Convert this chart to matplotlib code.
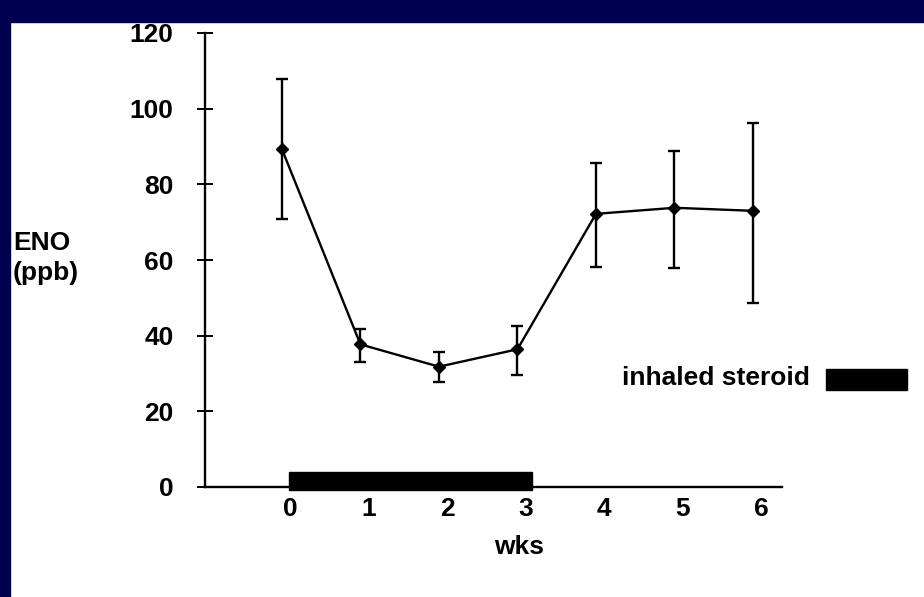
import matplotlib
matplotlib.use("Agg")
import matplotlib.pyplot as plt
import matplotlib.transforms as mtransforms
from matplotlib.patches import Rectangle

# data
weeks = [0, 1, 2, 3, 4, 5, 6]
eno = [89.3, 37.7, 31.8, 36.4, 72.2, 73.8, 73.0]
eno_low = [70.8, 33.0, 27.7, 29.5, 58.1, 58.0, 48.7]
eno_high = [107.8, 41.8, 35.8, 42.6, 85.6, 88.9, 96.3]
steroid_start, steroid_end = 0.09, 3.18
y_ticks = [0, 20, 40, 60, 80, 100, 120]

plt.rcParams['font.family'] = ['Liberation Sans', 'DejaVu Sans']
plt.rcParams['font.weight'] = 'bold'

fig = plt.figure(figsize=(9.24, 5.97), dpi=100)
fig.patch.set_facecolor('white')

navy = '#000050'
fig.patches.append(Rectangle((0, 1 - 22 / 597), 1, 22 / 597, transform=fig.transFigure,
                             color=navy, zorder=0))
fig.patches.append(Rectangle((0, 0), 10 / 924, 1, transform=fig.transFigure,
                             color=navy, zorder=0))

ax = fig.add_axes([205 / 924, 1 - 487 / 597, (782 - 205) / 924, (487 - 33) / 597])
ax.set_xlim(-0.98, 6.37)
ax.set_ylim(0, 120)

yerr = [[m - lo for m, lo in zip(eno, eno_low)],
        [hi - m for m, hi in zip(eno, eno_high)]]
ax.errorbar(weeks, eno, yerr=yerr, color='black', lw=1.7, elinewidth=1.7,
            capsize=4.5, capthick=1.7, marker='D', markersize=6.5, zorder=3)

# steroid bar on the x axis
ax.add_patch(Rectangle((steroid_start, -0.8), steroid_end - steroid_start, 4.8,
                       facecolor='black', edgecolor='black', clip_on=False, zorder=4))

for s in ['top', 'right']:
    ax.spines[s].set_visible(False)
ax.spines['left'].set_linewidth(1.7)
ax.spines['bottom'].set_linewidth(1.7)

ax.set_yticks(y_ticks)
ax.tick_params(axis='y', direction='inout', length=11.5, width=1.4, pad=17,
               labelsize=19)
ax.set_xticks(weeks)
ax.tick_params(axis='x', length=0, pad=7, labelsize=19)
offset = mtransforms.ScaledTranslation(8 / 100, 0, fig.dpi_scale_trans)
for lab in ax.get_xticklabels():
    lab.set_transform(lab.get_transform() + offset)

fig.text(13 / 924, 1 - 231 / 597, 'ENO\n(ppb)', ha='left', va='top',
         fontsize=19, fontweight='bold', linespacing=1.3)
fig.text(519 / 924, 1 - 547 / 597, 'wks', ha='center', va='center',
         fontsize=19, fontweight='bold')

# legend
fig.text(622 / 924, 1 - 378 / 597, 'inhaled steroid', ha='left', va='center',
         fontsize=19, fontweight='bold')
fig.patches.append(Rectangle((826 / 924, 1 - 390 / 597), 81 / 924, 21 / 597,
                             transform=fig.transFigure, color='black'))

fig.savefig('out.png', dpi=100)
